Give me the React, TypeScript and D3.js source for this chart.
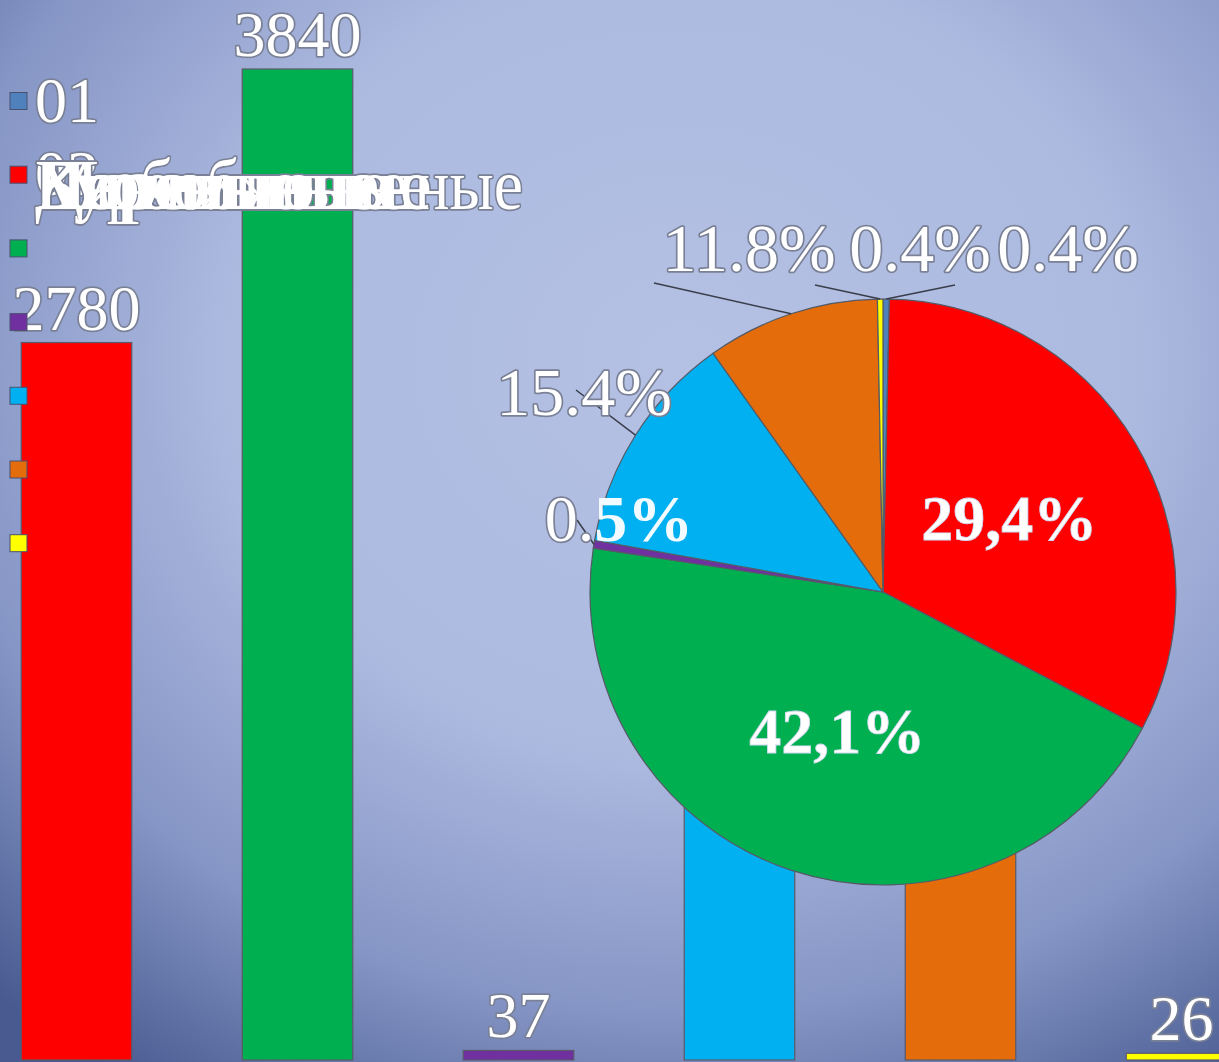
import * as d3 from 'd3';

// Categories in legend order; "01" sits in the first band which falls off the left edge.
const categories = ['01', '02', '03', '04', '05', '06', '07'];
const values = [30, 2780, 3840, 37, 1060, 820, 26];
const colors = ['#4f81bd', '#ff0000', '#00b050', '#7030a0', '#00b0f0', '#e46c0a', '#ffff00'];
// Bar value labels only for bars whose top is visible.
const barLabels = ['', '2780', '3840', '37', '', '', '26'];
// Pie labels as printed on the picture.
const pieLabels = ['0.4%', '29,4%', '42,1%', '0.5%', '15.4%', '11.8%', '0.4%'];
// Legend texts; row two has several names printed on top of each other.
const legendTexts = ['01', '02'];
const stackedNames = ['Кирпичные', 'Деревянные', 'Панельные', 'Блочные', 'Монолитные', 'Курбобжоненные'];

const W = 1219;
const H = 1062;
const FONT = '"Liberation Serif", "Times New Roman", serif';

// Label placement for the pie: inside labels use the centroid, the rest sit outside with leaders.
const pieLabelLayout: Record<number, { x: number; y: number; lx: number; ly: number }> = {
  0: { x: 1068, y: 271, lx: 955, ly: 285 },
  3: { x: 619, y: 541, lx: 577, ly: 520 },
  4: { x: 584, y: 415, lx: 576, ly: 390 },
  5: { x: 749, y: 271, lx: 654, ly: 283 },
  6: { x: 920, y: 271, lx: 815, ly: 285 },
};

const outline = {
  fill: '#ffffff',
  stroke: '#7a8196',
  strokeWidth: 3.4,
  paintOrder: 'stroke',
  strokeLinejoin: 'round' as const,
};

export default function App() {
  const x = d3.scaleBand<string>().domain(categories).range([-310.25, 1347.25]).padding(0.5);
  const y = d3.scaleLinear().domain([0, 3840]).range([1060, 69]);

  const cx = 883;
  const cy = 592;
  const r = 293;
  const pie = d3.pie<number>().sort(null)(values);
  const arc = d3.arc<d3.PieArcDatum<number>>().innerRadius(0).outerRadius(r);
  const edge = (a: d3.PieArcDatum<number>) => {
    const m = (a.startAngle + a.endAngle) / 2;
    return [cx + r * Math.sin(m), cy - r * Math.cos(m)];
  };

  const legendY = (i: number) => 101 + i * 73.7;
  const longest = stackedNames.length - 1;

  return (
    <svg width={W} height={H} style={{ position: 'fixed', left: 0, top: 0 }} fontFamily={FONT}>
      <defs>
        <radialGradient id="bg" cx="0.56" cy="0.34" r="0.82">
          <stop offset="0" stopColor="#b4c1e4" />
          <stop offset="0.45" stopColor="#adbae0" />
          <stop offset="0.75" stopColor="#8595c5" />
          <stop offset="1" stopColor="#485a90" />
        </radialGradient>
      </defs>
      <rect width={W} height={H} fill="url(#bg)" />

      {/* bars */}
      {categories.map((c, i) => (
        <rect
          key={c}
          x={x(c)}
          y={y(values[i])}
          width={x.bandwidth()}
          height={y(0) - y(values[i])}
          fill={colors[i]}
          stroke="#5a5a6a"
          strokeWidth={1.2}
        />
      ))}
      {categories.map((c, i) =>
        barLabels[i] ? (
          <text
            key={c}
            x={(x(c) ?? 0) + x.bandwidth() / 2}
            y={y(values[i]) - 13}
            textAnchor="middle"
            fontSize={64}
            {...outline}
          >
            {barLabels[i]}
          </text>
        ) : null
      )}

      {/* legend */}
      {categories.map((c, i) => (
        <rect
          key={c}
          x={10}
          y={legendY(i) - 8.5}
          width={17}
          height={17}
          fill={colors[i]}
          stroke="#4a5070"
          strokeWidth={1}
        />
      ))}
      <text x={35} y={122} fontSize={64} {...outline}>
        {legendTexts[0]}
      </text>
      <text x={35} y={195} fontSize={64} {...outline}>
        {legendTexts[1]}
      </text>
      {stackedNames.map((n, i) => (
        <text
          key={'s' + n}
          x={35}
          y={209}
          fontSize={72}
          fill="none"
          stroke="#7a8196"
          strokeWidth={3.4}
          strokeLinejoin="round"
          textLength={i === longest ? 488 : undefined}
          lengthAdjust="spacingAndGlyphs"
        >
          {n}
        </text>
      ))}
      {stackedNames.map((n, i) => (
        <text
          key={'f' + n}
          x={35}
          y={209}
          fontSize={72}
          fill="#ffffff"
          textLength={i === longest ? 488 : undefined}
          lengthAdjust="spacingAndGlyphs"
        >
          {n}
        </text>
      ))}

      {/* pie */}
      <g transform={`translate(${cx},${cy})`}>
        {pie.map((p, i) => (
          <path key={i} d={arc(p) ?? ''} fill={colors[i]} stroke="#555a66" strokeWidth={1.2} />
        ))}
      </g>

      {/* pie leaders and labels */}
      {pie.map((p, i) => {
        const L = pieLabelLayout[i];
        if (!L) return null;
        const [ex, ey] = edge(p);
        return <line key={'l' + i} x1={ex} y1={ey} x2={L.lx} y2={L.ly} stroke="#3a3e4a" strokeWidth={1.5} />;
      })}
      {pie.map((p, i) => {
        const L = pieLabelLayout[i];
        if (L && i === 3) {
          // this label is printed half plain, half bold
          const t = pieLabels[i];
          return (
            <text key={'t' + i} x={L.x} y={L.y} textAnchor="middle" fontSize={66}>
              <tspan {...outline}>{t.slice(0, 2)}</tspan>
              <tspan fontWeight="bold" fill="#f2fbff">
                {t.slice(2)}
              </tspan>
            </text>
          );
        }
        if (L) {
          return (
            <text key={'t' + i} x={L.x} y={L.y} textAnchor="middle" fontSize={68} {...outline}>
              {pieLabels[i]}
            </text>
          );
        }
        const [px, py] = arc.centroid(p);
        return (
          <text
            key={'t' + i}
            x={cx + px}
            y={cy + py + 22}
            textAnchor="middle"
            fontSize={64}
            fontWeight="bold"
            fill="#ffffff"
            stroke="#d0d8f0"
            strokeWidth={0.8}
          >
            {pieLabels[i]}
          </text>
        );
      })}
    </svg>
  );
}
